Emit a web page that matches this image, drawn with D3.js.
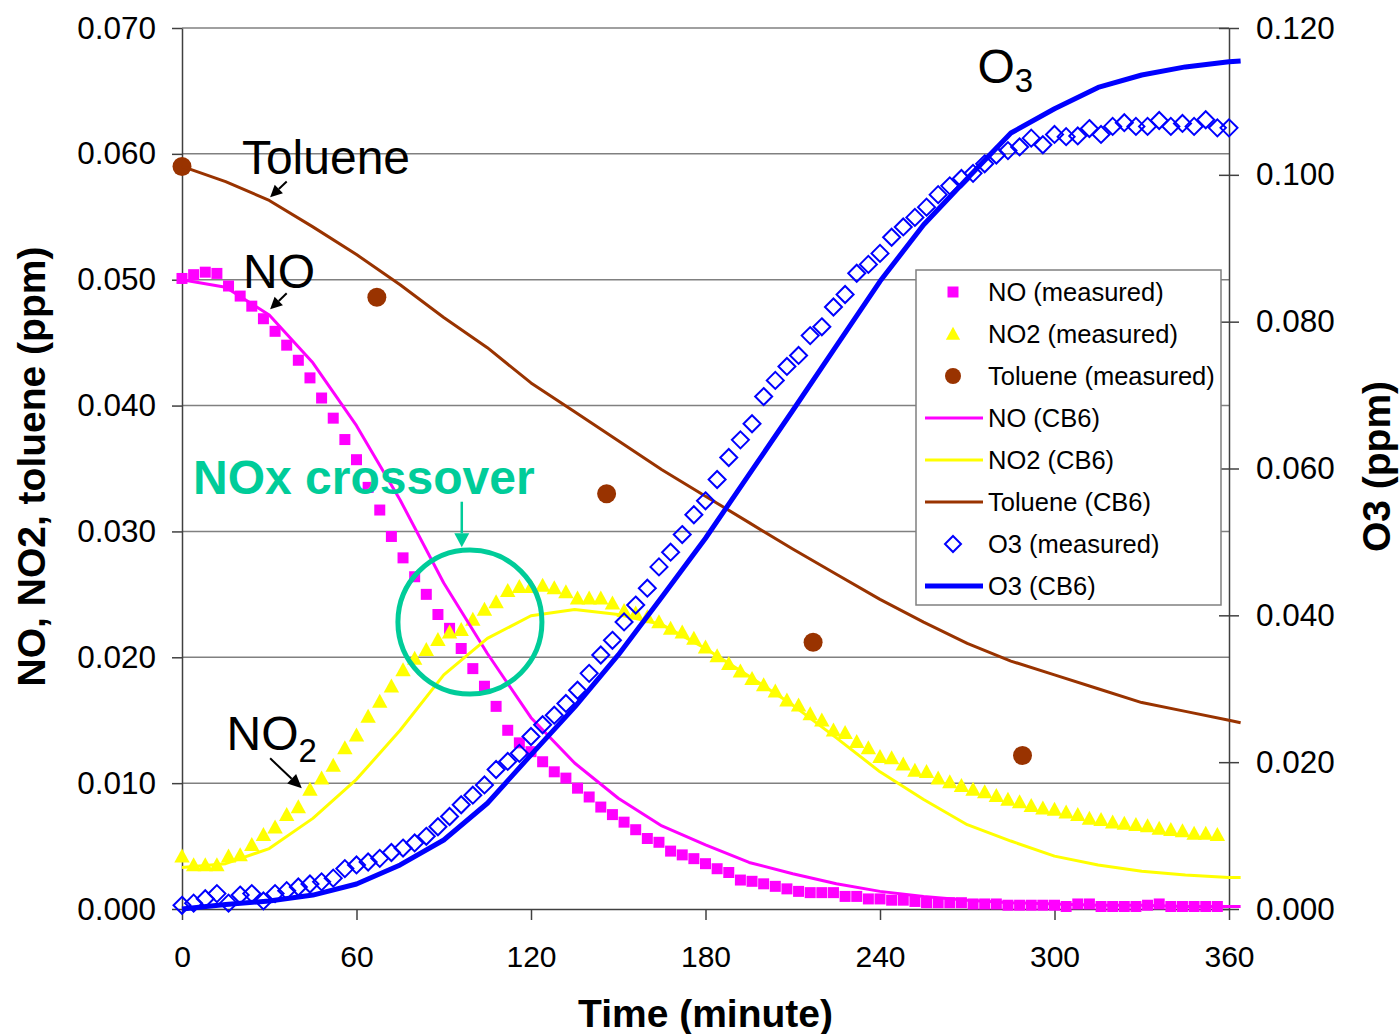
<!DOCTYPE html>
<html lang="en">
<head>
    <meta charset="UTF-8">
    <title>Toluene / NOx chamber run: measured vs CB6</title>
    <script src="https://d3js.org/d3.v7.min.js"></script>
    <style>
        body { margin: 0; background: #fff; }
        svg { display: block; font-family: "Liberation Sans", Arial, sans-serif; }
        .grid line { stroke: #808080; stroke-width: 1.5; }
        .axis path, .axis line { stroke: #404040; stroke-width: 1.5; }
        .axis text { font-size: 30px; fill: #000; font-family: "Liberation Sans", Arial, sans-serif; }
        .y-axis text { font-size: 31.5px; }
        .axis-title { font-size: 39px; font-weight: bold; }
        .legend text { font-size: 25.5px; }
        .note { font-size: 48px; }
    </style>
</head>
<body>
<div id="chart-container"></div>
<script>
// measured series, sampled every ~4 minutes
const timeMeasured = [0,4,8,12,16,20,24,28,32,36,40,44,48,52,56,60,64,68,72,76,80,84,88,92,96,100,104,108,112,116,
    120,124,128,132,136,140,144,148,152,156,160,164,168,172,176,180,184,188,192,196,200,204,208,212,216,220,224,228,232,236,
    240,244,248,252,256,260,264,268,272,276,280,284,288,292,296,300,304,308,312,316,320,324,328,332,336,340,344,348,352,356,360];

const noMeasured = [0.0501,0.0504,0.0506,0.0505,0.0495,0.0487,0.0479,0.0469,0.0459,0.0448,
    0.0436,0.0422,0.0406,0.0390,0.0373,0.0357,0.0335,0.0317,0.0296,0.0279,
    0.0264,0.0250,0.0234,0.0223,0.0207,0.0191,0.0177,0.0161,0.0142,0.0132,
    0.0125,0.0117,0.0109,0.0104,0.0096,0.0089,0.0081,0.0075,0.0069,0.0063,
    0.0056,0.0053,0.0046,0.0043,0.0040,0.0036,0.0032,0.0029,0.0023,0.0022,
    0.0020,0.0018,0.0016,0.0014,0.0013,0.0013,0.0013,0.0010,0.0010,0.0008,
    0.0008,0.0007,0.0007,0.0006,0.0005,0.0005,0.0005,0.0005,0.0004,0.0004,
    0.0004,0.0003,0.0003,0.0003,0.0003,0.0003,0.0002,0.0004,0.0004,0.0002,
    0.0002,0.0002,0.0002,0.0003,0.0004,0.0002,0.0002,0.0002,0.0002,0.0002];

const no2Measured = [0.0042,0.0035,0.0035,0.0035,0.0042,0.0043,0.0051,0.0059,0.0065,0.0075,
    0.0081,0.0095,0.0104,0.0114,0.0128,0.0138,0.0153,0.0165,0.0177,0.0190,
    0.0199,0.0206,0.0214,0.0220,0.0222,0.0230,0.0238,0.0244,0.0253,0.0256,
    0.0256,0.0257,0.0255,0.0252,0.0247,0.0247,0.0247,0.0243,0.0237,0.0235,
    0.0232,0.0228,0.0223,0.0220,0.0215,0.0208,0.0201,0.0195,0.0189,0.0183,
    0.0178,0.0173,0.0166,0.0162,0.0155,0.0150,0.0142,0.0140,0.0133,0.0128,
    0.0121,0.0120,0.0115,0.0110,0.0109,0.0104,0.0101,0.0098,0.0095,0.0093,
    0.0090,0.0087,0.0085,0.0082,0.0080,0.0079,0.0077,0.0075,0.0072,0.0071,
    0.0069,0.0068,0.0067,0.0066,0.0064,0.0063,0.0062,0.0060,0.0060,0.0059];

const o3Measured = [0.0005,0.0008,0.0014,0.0021,0.0008,0.0019,0.0021,0.0011,0.0021,0.0025,
    0.0030,0.0034,0.0037,0.0042,0.0055,0.0060,0.0064,0.0069,0.0077,0.0083,
    0.0090,0.0099,0.0112,0.0126,0.0142,0.0155,0.0169,0.0190,0.0201,0.0212,
    0.0235,0.0251,0.0264,0.0280,0.0298,0.0321,0.0346,0.0366,0.0391,0.0414,
    0.0437,0.0466,0.0486,0.0510,0.0537,0.0556,0.0585,0.0615,0.0639,0.0661,
    0.0698,0.0720,0.0739,0.0754,0.0781,0.0793,0.0820,0.0837,0.0866,0.0878,
    0.0893,0.0915,0.0929,0.0942,0.0956,0.0973,0.0985,0.0995,0.1002,0.1015,
    0.1027,0.1033,0.1038,0.1050,0.1041,0.1055,0.1052,0.1053,0.1063,0.1055,
    0.1066,0.1071,0.1066,0.1066,0.1074,0.1066,0.1070,0.1066,0.1075,0.1064,
    0.1064];

// toluene was only sampled a few times
const timeToluene = [0, 67, 146, 217, 289];
const tolueneMeasured = [0.0590, 0.0486, 0.0330, 0.0212, 0.0122];

// CB6 model output
const timeModel = [0,15,30,45,60,75,90,105,120,135,150,165,180,195,210,225,240,255,270,285,300,315,330,345,360,364];
const noModel = [0.0500,0.0494,0.0472,0.0434,0.0384,0.0325,0.0259,0.0203,0.0152,0.0116,0.0088,0.0066,0.0051,
    0.0037,0.0028,0.0020,0.0014,0.0010,0.0007,0.0005,0.0004,0.0003,0.0003,0.0002,0.0002,0.0002];
const no2Model = [0.0033,0.0036,0.0048,0.0072,0.0103,0.0142,0.0186,0.0215,0.0233,0.0238,0.0234,0.0226,0.0207,
    0.0185,0.0162,0.0136,0.0109,0.0087,0.0067,0.0054,0.0042,0.0035,0.0030,0.0027,0.0025,0.0025];
const tolueneModel = [0.0590,0.0578,0.0563,0.0542,0.0520,0.0496,0.0470,0.0446,0.0418,0.0395,0.0372,0.0349,0.0328,
    0.0307,0.0286,0.0266,0.0246,0.0228,0.0211,0.0197,0.0186,0.0175,0.0164,0.0157,0.0150,0.0148];
const o3Model = [0.0000,0.0006,0.0011,0.0019,0.0034,0.0060,0.0094,0.0144,0.0210,0.0275,0.0346,0.0425,0.0505,
    0.0592,0.0679,0.0767,0.0855,0.0932,0.0995,0.1057,0.1090,0.1119,0.1136,0.1147,0.1154,0.1155];

// axis ticks
const xTicks = [0, 60, 120, 180, 240, 300, 360];
const leftTicks = [0, 0.01, 0.02, 0.03, 0.04, 0.05, 0.06, 0.07];
const rightTicks = [0, 0.02, 0.04, 0.06, 0.08, 0.10, 0.12];

const legendLabels = ['NO (measured)', 'NO2 (measured)', 'Toluene (measured)', 'NO (CB6)',
    'NO2 (CB6)', 'Toluene (CB6)', 'O3 (measured)', 'O3 (CB6)'];

const colors = { no: '#ff00ff', no2: '#ffff00', tol: '#993300', o3: '#0000ff', teal: '#00cc99' };

// marker shapes
function markerPath(shape, s) {
    if (shape === 'square') return `M${-s/2},${-s/2}h${s}v${s}h${-s}Z`;
    if (shape === 'triangle') return `M0,${-s*0.55}L${s*0.55},${s*0.45}L${-s*0.55},${s*0.45}Z`;
    if (shape === 'diamond') return `M0,${-s}L${s},0L0,${s}L${-s},0Z`;
}

function pairs(times, values) {
    return values.map((v, i) => [times[i], v]);
}

function drawMarkers(g, data, xScale, yScale, shape, size, fill, stroke) {
    g.append('g').selectAll('path')
        .data(data)
        .enter()
        .append('path')
        .attr('transform', d => `translate(${xScale(d[0])},${yScale(d[1])})`)
        .attr('d', markerPath(shape, size))
        .attr('fill', fill)
        .attr('stroke', stroke || 'none')
        .attr('stroke-width', stroke ? 2 : 0);
}

function drawLine(g, data, xScale, yScale, color, width) {
    g.append('path')
        .datum(data)
        .attr('fill', 'none')
        .attr('stroke', color)
        .attr('stroke-width', width)
        .attr('stroke-linejoin', 'round')
        .attr('d', d3.line().x(d => xScale(d[0])).y(d => yScale(d[1])));
}

function drawArrow(g, x1, y1, x2, y2, color, width, headLen, headW) {
    const a = Math.atan2(y2 - y1, x2 - x1);
    const bx = x2 - headLen * Math.cos(a), by = y2 - headLen * Math.sin(a);
    g.append('line')
        .attr('x1', x1).attr('y1', y1).attr('x2', bx).attr('y2', by)
        .attr('stroke', color).attr('stroke-width', width);
    const px = -Math.sin(a) * headW / 2, py = Math.cos(a) * headW / 2;
    g.append('path')
        .attr('d', `M${x2},${y2}L${bx + px},${by + py}L${bx - px},${by - py}Z`)
        .attr('fill', color);
}

function setupChart() {
    const W = 1399, H = 1034;
    const plot = { left: 182, right: 1229, top: 28, bottom: 909 };

    const svg = d3.select('#chart-container')
        .append('svg')
        .attr('width', W)
        .attr('height', H);

    const x = d3.scaleLinear().domain([0, 360]).range([plot.left, plot.right]);
    const yL = d3.scaleLinear().domain([0, 0.07]).range([plot.bottom, plot.top]);
    const yR = d3.scaleLinear().domain([0, 0.12]).range([plot.bottom, plot.top]);

    // horizontal gridlines from the primary axis
    svg.append('g').attr('class', 'grid')
        .selectAll('line')
        .data(leftTicks.slice(1))
        .enter()
        .append('line')
        .attr('x1', plot.left).attr('x2', plot.right)
        .attr('y1', d => yL(d)).attr('y2', d => yL(d));

    // axes
    svg.append('g').attr('class', 'axis y-axis')
        .attr('transform', `translate(${plot.left},0)`)
        .call(d3.axisLeft(yL).tickValues(leftTicks).tickFormat(d3.format('.3f'))
            .tickSize(10).tickSizeOuter(0).tickPadding(16));

    const right = svg.append('g').attr('class', 'axis y-axis')
        .attr('transform', `translate(${plot.right},0)`)
        .call(d3.axisRight(yR).tickValues(rightTicks).tickFormat(d3.format('.3f'))
            .tickSize(10).tickSizeOuter(0).tickPadding(17));
    right.selectAll('.tick line').attr('x1', -10);

    svg.append('g').attr('class', 'axis')
        .attr('transform', `translate(0,${plot.bottom})`)
        .call(d3.axisBottom(x).tickValues(xTicks).tickFormat(d3.format('d'))
            .tickSize(11).tickSizeOuter(0).tickPadding(26));

    // axis titles
    svg.append('text').attr('class', 'axis-title')
        .attr('x', (plot.left + plot.right) / 2).attr('y', 1027)
        .attr('text-anchor', 'middle').text('Time (minute)');
    svg.append('text').attr('class', 'axis-title')
        .attr('transform', `translate(45,${(plot.top + plot.bottom) / 2 - 2}) rotate(-90)`)
        .attr('text-anchor', 'middle').text('NO, NO2, toluene (ppm)');
    svg.append('text').attr('class', 'axis-title')
        .attr('transform', `translate(1390,${(plot.top + plot.bottom) / 2 - 2}) rotate(-90)`)
        .attr('text-anchor', 'middle').text('O3 (ppm)');

    // series
    const g = svg.append('g');
    drawMarkers(g, pairs(timeMeasured, noMeasured), x, yL, 'square', 11, colors.no);
    drawMarkers(g, pairs(timeMeasured, no2Measured), x, yL, 'triangle', 14, colors.no2);
    g.append('g').selectAll('circle')
        .data(pairs(timeToluene, tolueneMeasured))
        .enter()
        .append('circle')
        .attr('cx', d => x(d[0])).attr('cy', d => yL(d[1]))
        .attr('r', 9.5).attr('fill', colors.tol);
    drawLine(g, pairs(timeModel, noModel), x, yL, colors.no, 3);
    drawLine(g, pairs(timeModel, no2Model), x, yL, colors.no2, 3);
    drawLine(g, pairs(timeModel, tolueneModel), x, yL, colors.tol, 3);
    drawMarkers(g, pairs(timeMeasured, o3Measured), x, yR, 'diamond', 8.5, 'none', colors.o3);
    drawLine(g, pairs(timeModel, o3Model), x, yR, colors.o3, 5);

    // legend
    const lg = svg.append('g').attr('class', 'legend');
    const box = { x: 916, y: 270, w: 305, h: 335 };
    lg.append('rect')
        .attr('x', box.x).attr('y', box.y).attr('width', box.w).attr('height', box.h)
        .attr('fill', '#fff').attr('stroke', '#808080').attr('stroke-width', 1.5);
    const items = [
        { type: 'square', color: colors.no },
        { type: 'triangle', color: colors.no2 },
        { type: 'circle', color: colors.tol },
        { type: 'line', color: colors.no, w: 3 },
        { type: 'line', color: colors.no2, w: 3 },
        { type: 'line', color: colors.tol, w: 3 },
        { type: 'diamond', color: colors.o3 },
        { type: 'line', color: colors.o3, w: 5 }
    ];
    items.forEach((it, i) => {
        const cy = box.y + 22 + i * 42;
        const cx = 953;
        if (it.type === 'line') {
            lg.append('line').attr('x1', 925).attr('x2', 983).attr('y1', cy).attr('y2', cy)
                .attr('stroke', it.color).attr('stroke-width', it.w);
        } else if (it.type === 'circle') {
            lg.append('circle').attr('cx', cx).attr('cy', cy).attr('r', 8).attr('fill', it.color);
        } else if (it.type === 'diamond') {
            lg.append('path').attr('transform', `translate(${cx},${cy})`)
                .attr('d', markerPath('diamond', 8)).attr('fill', 'none')
                .attr('stroke', it.color).attr('stroke-width', 2);
        } else {
            lg.append('path').attr('transform', `translate(${cx},${cy})`)
                .attr('d', markerPath(it.type, it.type === 'square' ? 11 : 13)).attr('fill', it.color);
        }
        lg.append('text').attr('x', 988).attr('y', cy + 8.5).text(legendLabels[i]);
    });

    // annotations (placed in data units)
    const notes = svg.append('g');
    notes.append('text').attr('class', 'note').attr('x', x(20.6)).attr('y', yL(0.0584)).text('Toluene');
    drawArrow(notes, x(36.0), yL(0.0578), x(30.3), yL(0.05655), '#000', 2, 12, 12);
    notes.append('text').attr('class', 'note').attr('x', x(21.0)).attr('y', yL(0.04934)).text('NO');
    drawArrow(notes, x(36.0), yL(0.04892), x(30.3), yL(0.04765), '#000', 2, 12, 12);
    const no2Txt = notes.append('text').attr('class', 'note').attr('x', x(15.3)).attr('y', yL(0.01263));
    no2Txt.append('tspan').text('NO');
    no2Txt.append('tspan').attr('dy', 12).attr('font-size', 33).text('2');
    drawArrow(notes, x(30.3), yL(0.01197), x(41.2), yL(0.00959), '#000', 2, 14, 13);
    const o3Txt = notes.append('text').attr('class', 'note').attr('x', x(273.5)).attr('y', yR(0.1125));
    o3Txt.append('tspan').text('O');
    o3Txt.append('tspan').attr('dy', 9).attr('font-size', 33).text('3');

    notes.append('text').attr('class', 'note')
        .attr('x', x(3.8)).attr('y', yL(0.03297))
        .attr('font-weight', 'bold').attr('fill', colors.teal)
        .text('NOx crossover');
    drawArrow(notes, x(96.2), yL(0.03236), x(96.2), yL(0.02874), colors.teal, 2.5, 14, 15);
    notes.append('circle')
        .attr('cx', x(99.0)).attr('cy', yL(0.0228)).attr('r', 72)
        .attr('fill', 'none').attr('stroke', colors.teal).attr('stroke-width', 5);
}

setupChart();
</script>
</body>
</html>
